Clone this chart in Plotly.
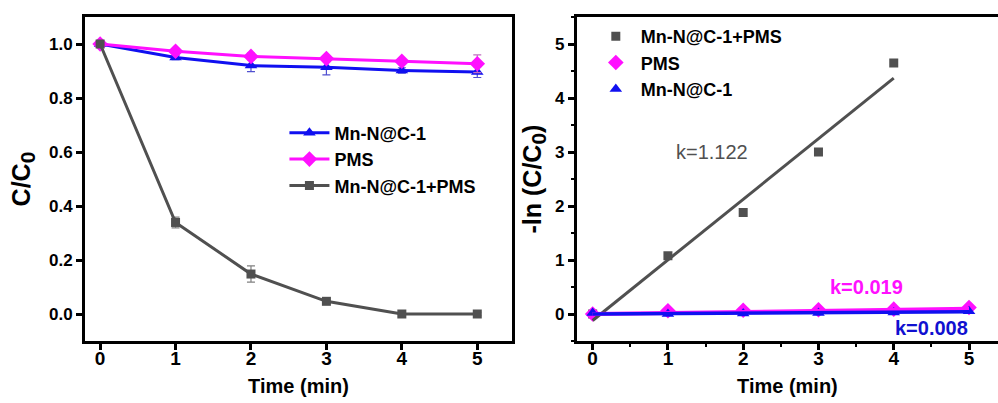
import plotly.graph_objects as go

# ---- data ----
time_min = [0, 1, 2, 3, 4, 5]

# C/C0 degradation curves
mnnc_ratio = [1.0, 0.950, 0.920, 0.914, 0.902, 0.896]
mnnc_err = [0.0, 0.008, 0.022, 0.028, 0.010, 0.020]
pms_ratio = [1.0, 0.973, 0.954, 0.946, 0.936, 0.927]
pms_err = [0.0, 0.008, 0.012, 0.010, 0.010, 0.033]
combo_ratio = [1.0, 0.339, 0.148, 0.047, 0.0, 0.0]
combo_err = [0.0, 0.020, 0.030, 0.008, 0.008, 0.006]

# -ln(C/C0) kinetics points
combo_ln = [0.0, 1.08, 1.88, 3.0, 4.65]
pms_ln = [0.0, 0.06, 0.07, 0.08, 0.09, 0.12]
mnnc_ln = [0.02, 0.0, 0.01, 0.02, 0.03, 0.05]

# pseudo-first-order fits: slope k and intercept
k_combo, b_combo = 1.122, -0.12
k_pms, b_pms = 0.019, 0.0
k_mnnc, b_mnnc = 0.008, 0.0

fit_x_combo = [0, 4]
fit_x_other = [0, 5]

BLUE = "#1010f0"
MAGENTA = "#ff10ff"
GRAY = "#505050"
FONT = "Liberation Sans, Arial, sans-serif"

fig = go.Figure()

# ---- left panel: C/C0 vs time ----
fig.add_trace(go.Scatter(
    x=time_min, y=mnnc_ratio, name="Mn-N@C-1", mode="lines+markers",
    line=dict(color=BLUE, width=3), marker=dict(symbol="triangle-up", size=11, color=BLUE),
    error_y=dict(type="data", array=mnnc_err, color="#5050d0", thickness=1.2, width=4),
    xaxis="x", yaxis="y", legend="legend"))
fig.add_trace(go.Scatter(
    x=time_min, y=pms_ratio, name="PMS", mode="lines+markers",
    line=dict(color=MAGENTA, width=3), marker=dict(symbol="diamond", size=12, color=MAGENTA),
    error_y=dict(type="data", array=pms_err, color="#c070c0", thickness=1.2, width=4),
    xaxis="x", yaxis="y", legend="legend"))
fig.add_trace(go.Scatter(
    x=time_min, y=combo_ratio, name="Mn-N@C-1+PMS", mode="lines+markers",
    line=dict(color=GRAY, width=3), marker=dict(symbol="square", size=9, color=GRAY),
    error_y=dict(type="data", array=combo_err, color="#808080", thickness=1.2, width=4),
    xaxis="x", yaxis="y", legend="legend"))

# ---- right panel: -ln(C/C0) vs time ----
fig.add_trace(go.Scatter(
    x=time_min[:5], y=combo_ln, name="Mn-N@C-1+PMS", mode="markers",
    marker=dict(symbol="square", size=9, color=GRAY),
    xaxis="x2", yaxis="y2", legend="legend2"))
fig.add_trace(go.Scatter(
    x=time_min, y=pms_ln, name="PMS", mode="markers",
    marker=dict(symbol="diamond", size=12, color=MAGENTA),
    xaxis="x2", yaxis="y2", legend="legend2"))
fig.add_trace(go.Scatter(
    x=time_min, y=mnnc_ln, name="Mn-N@C-1", mode="markers",
    marker=dict(symbol="triangle-up", size=11, color=BLUE),
    xaxis="x2", yaxis="y2", legend="legend2"))

# linear fits
fig.add_trace(go.Scatter(
    x=fit_x_combo, y=[k_combo * t + b_combo for t in fit_x_combo], mode="lines",
    line=dict(color=GRAY, width=3), showlegend=False, xaxis="x2", yaxis="y2"))
fig.add_trace(go.Scatter(
    x=fit_x_other, y=[k_pms * t + b_pms for t in fit_x_other], mode="lines",
    line=dict(color=MAGENTA, width=4), showlegend=False, xaxis="x2", yaxis="y2"))
fig.add_trace(go.Scatter(
    x=fit_x_other, y=[k_mnnc * t + b_mnnc for t in fit_x_other], mode="lines",
    line=dict(color=BLUE, width=3.5), showlegend=False, xaxis="x2", yaxis="y2"))

xtickfont = dict(family=FONT, size=19, color="black", weight="bold")
ytickfont = dict(family=FONT, size=17, color="black", weight="bold")
titlefont_x = dict(family=FONT, size=20, color="black", weight="bold")
titlefont_y = dict(family=FONT, size=25, color="black", weight="bold")

axis_common = dict(
    showgrid=False, zeroline=False, showline=True, linecolor="black", linewidth=3,
    ticks="outside", ticklen=6, tickwidth=2.5, tickcolor="black",
)
minor_ticks = dict(dtick=0.5, ticklen=3, tickwidth=1.5, tickcolor="black", ticks="outside")

sub0 = "<sub><span style='font-size:21px'>0</span></sub>"

fig.update_layout(
    width=998, height=403,
    margin=dict(l=0, r=0, t=17, b=62),
    paper_bgcolor="white", plot_bgcolor="white",
    font=dict(family=FONT),
    xaxis=dict(domain=[0.0852, 0.513], range=[-0.2, 5.46], tickvals=time_min, mirror=True,
               tickfont=xtickfont, ticklabelstandoff=-8,
               title=dict(text="Time (min)", font=titlefont_x, standoff=12), anchor="y",
               **axis_common),
    yaxis=dict(range=[-0.1, 1.1], tickvals=[0, 0.2, 0.4, 0.6, 0.8, 1.0], tickformat=".1f",
               mirror=True, anchor="x", tickfont=ytickfont,
               title=dict(text="C/C" + sub0, font=titlefont_y, standoff=12),
               **axis_common),
    xaxis2=dict(domain=[0.578, 1.0], range=[-0.21, 5.385], tickvals=time_min, mirror=True,
                tickfont=xtickfont, ticklabelstandoff=-8, minor=minor_ticks,
                title=dict(text="Time (min)", font=titlefont_x, standoff=12), anchor="y2",
                **axis_common),
    yaxis2=dict(range=[-0.5, 5.5], tickvals=[0, 1, 2, 3, 4, 5], mirror=False, anchor="x2",
                tickfont=ytickfont, minor=minor_ticks,
                title=dict(text="-ln (C/C" + sub0 + ")", font=titlefont_y, standoff=7),
                **axis_common),
    legend=dict(x=0.285, y=0.699, xanchor="left", yanchor="top", bgcolor="rgba(0,0,0,0)",
                font=dict(family=FONT, size=18, color="black", weight="bold"),
                tracegroupgap=0, itemwidth=40),
    legend2=dict(x=0.592, y=0.997, xanchor="left", yanchor="top", bgcolor="rgba(0,0,0,0)",
                 font=dict(family=FONT, size=18, color="black", weight="bold"),
                 tracegroupgap=0, itemwidth=40),
    annotations=[
        dict(x=1.58, y=3.0, xref="x2", yref="y2", text="k=1.122", showarrow=False,
             font=dict(family=FONT, size=20, color=GRAY)),
        dict(x=3.64, y=0.5, xref="x2", yref="y2", text="k=0.019", showarrow=False,
             font=dict(family=FONT, size=20, color=MAGENTA, weight="bold")),
        dict(x=4.5, y=-0.26, xref="x2", yref="y2", text="k=0.008", showarrow=False,
             font=dict(family=FONT, size=20, color="#1010d0", weight="bold")),
    ],
)

fig.write_html("out.html")
